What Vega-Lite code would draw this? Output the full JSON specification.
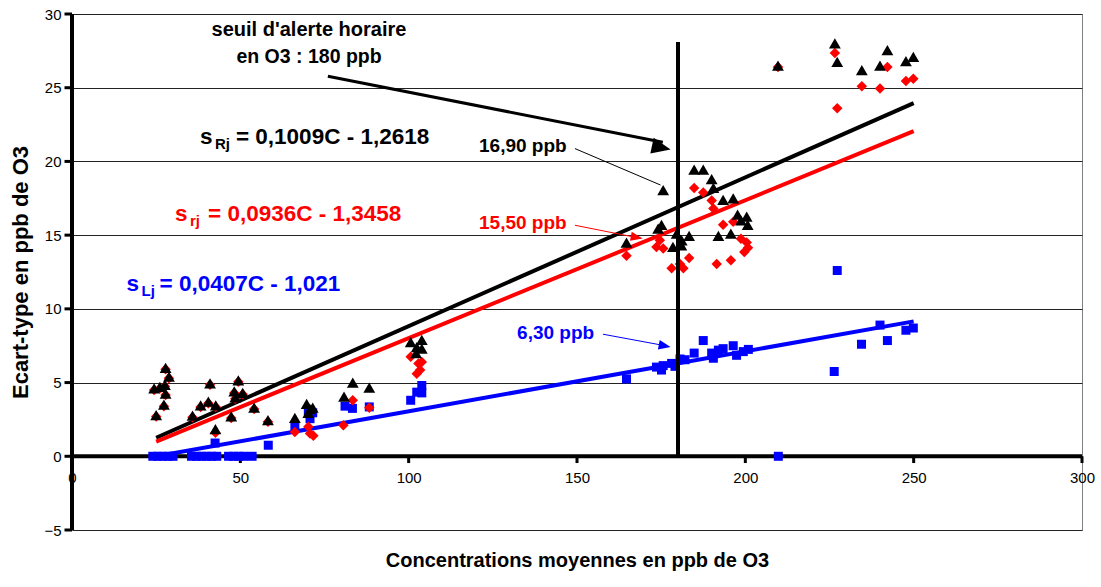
{
  "$schema": "https://vega.github.io/schema/vega-lite/v6.json",
  "width": 1010,
  "height": 516,
  "autosize": {"type": "none"},
  "padding": {"left": 72, "top": 14, "right": 19, "bottom": 57},
  "background": "white",
  "config": {
    "view": {"stroke": "#808080", "strokeWidth": 1},
    "font": "Liberation Sans",
    "axis": {
      "domain": false, "ticks": false,
      "labelFont": "Liberation Sans", "labelFontSize": 15, "labelColor": "#000",
      "labelFlush": false, "labelBound": false,
      "titleFont": "Liberation Sans", "titleFontWeight": "bold", "titleColor": "#000"
    },
    "axisX": {"grid": false, "labelPadding": 14, "offset": -74, "titleFontSize": 20, "titlePadding": 65},
    "axisY": {"grid": true, "gridColor": "#222", "gridWidth": 1, "labelPadding": 11, "titleFontSize": 22, "titlePadding": 11}
  },
  "datasets": {
    "one": [{}],
    "xline": [{"x":0,"x2":300,"v":0}],
    "yline": [{"x":0,"v":-5,"v2":30}],
    "xt": [{"x":0,"v":0},{"x":50,"v":0},{"x":100,"v":0},{"x":150,"v":0},{"x":200,"v":0},{"x":250,"v":0},{"x":300,"v":0}],
    "yt": [{"x":0,"v":-5},{"x":0,"v":0},{"x":0,"v":5},{"x":0,"v":10},{"x":0,"v":15},{"x":0,"v":20},{"x":0,"v":25},{"x":0,"v":30}],
    "R": [
      {"x":24.4,"v":4.6},{"x":25.0,"v":2.8},{"x":26.1,"v":4.7},{"x":27.3,"v":3.5},{"x":27.6,"v":4.85},{"x":27.8,"v":6.0},{"x":27.8,"v":4.25},{"x":28.8,"v":5.4},
      {"x":35.8,"v":2.75},{"x":38.2,"v":3.45},{"x":40.5,"v":3.7},{"x":41.0,"v":4.95},{"x":42.7,"v":3.45},{"x":42.6,"v":1.85},{"x":47.3,"v":2.7},{"x":48.2,"v":4.4},{"x":49.4,"v":5.15},{"x":48.5,"v":4.0},{"x":50.7,"v":4.3},{"x":54.1,"v":3.3},{"x":58.2,"v":2.45},
      {"x":66.2,"v":2.6},{"x":69.7,"v":3.55},{"x":70.7,"v":3.2},{"x":71.5,"v":3.3},{"x":70.2,"v":2.95},{"x":80.8,"v":4.05},{"x":83.4,"v":5.0},{"x":88.3,"v":4.65},
      {"x":100.6,"v":7.75},{"x":102.4,"v":7.4},{"x":103.9,"v":7.9},{"x":102.2,"v":7.0},{"x":103.9,"v":7.3},
      {"x":164.7,"v":14.5},{"x":174.1,"v":15.45},{"x":175.1,"v":15.7},{"x":175.6,"v":18.05},{"x":178.5,"v":14.2},{"x":179.6,"v":15.1},{"x":181.1,"v":14.65},{"x":181.0,"v":14.3},{"x":183.3,"v":14.95},{"x":184.8,"v":19.45},{"x":187.5,"v":19.45},{"x":190.0,"v":18.8},{"x":190.5,"v":18.2},{"x":192.0,"v":14.95},{"x":193.4,"v":17.4},{"x":195.7,"v":15.1},{"x":196.4,"v":17.5},{"x":197.7,"v":16.4},{"x":198.7,"v":16.0},{"x":200.4,"v":16.25},{"x":200.7,"v":15.7},
      {"x":209.7,"v":26.5},{"x":226.6,"v":28.0},{"x":227.3,"v":26.75},{"x":234.6,"v":26.2},{"x":240.0,"v":26.5},{"x":242.2,"v":27.55},{"x":247.7,"v":26.8},{"x":249.9,"v":27.1}
    ],
    "r": [
      {"x":24.4,"v":4.5},{"x":25.0,"v":2.7},{"x":26.1,"v":4.6},{"x":27.3,"v":3.4},{"x":27.6,"v":4.75},{"x":27.8,"v":5.9},{"x":27.8,"v":4.15},{"x":28.8,"v":5.3},
      {"x":35.8,"v":2.65},{"x":38.2,"v":3.35},{"x":40.5,"v":3.6},{"x":41.0,"v":4.85},{"x":42.7,"v":3.35},{"x":42.6,"v":1.6},{"x":47.3,"v":2.6},{"x":48.2,"v":4.3},{"x":49.4,"v":5.05},{"x":48.5,"v":3.9},{"x":50.7,"v":4.2},{"x":54.1,"v":3.2},{"x":58.2,"v":2.35},
      {"x":66.2,"v":1.65},{"x":70.2,"v":2.0},{"x":70.7,"v":1.55},{"x":71.7,"v":1.4},{"x":80.6,"v":2.1},{"x":83.4,"v":3.8},{"x":88.3,"v":3.3},
      {"x":100.6,"v":6.75},{"x":102.9,"v":6.3},{"x":103.4,"v":5.85},{"x":102.4,"v":5.6},{"x":103.9,"v":6.4},
      {"x":164.7,"v":13.6},{"x":173.6,"v":14.2},{"x":174.6,"v":14.65},{"x":175.6,"v":14.1},{"x":178.1,"v":12.75},{"x":180.6,"v":13.05},{"x":181.6,"v":12.75},{"x":183.3,"v":13.45},{"x":184.8,"v":18.2},{"x":187.5,"v":17.9},{"x":190.0,"v":17.35},{"x":190.5,"v":16.8},{"x":191.5,"v":13.05},{"x":193.4,"v":15.7},{"x":195.7,"v":13.3},{"x":196.4,"v":15.9},{"x":198.7,"v":14.75},{"x":199.7,"v":13.85},{"x":200.4,"v":14.5},{"x":200.8,"v":14.15},
      {"x":209.7,"v":26.4},{"x":226.6,"v":27.35},{"x":227.3,"v":23.6},{"x":234.6,"v":25.1},{"x":240.0,"v":24.95},{"x":242.2,"v":26.4},{"x":247.7,"v":25.45},{"x":249.9,"v":25.6}
    ],
    "L": [
      {"x":24.0,"v":0},{"x":25.5,"v":0},{"x":27.0,"v":0},{"x":28.5,"v":0},{"x":30.0,"v":0},
      {"x":35.5,"v":0},{"x":37.0,"v":0},{"x":38.5,"v":0},{"x":40.0,"v":0},{"x":41.5,"v":0},{"x":43.0,"v":0},
      {"x":46.5,"v":0},{"x":48.0,"v":0},{"x":49.5,"v":0},{"x":51.0,"v":0},{"x":53.5,"v":0},
      {"x":42.5,"v":0.9},{"x":58.3,"v":0.75},
      {"x":66.2,"v":2.0},{"x":70.2,"v":3.0},{"x":70.7,"v":2.55},{"x":71.5,"v":2.95},{"x":81.1,"v":3.4},{"x":83.3,"v":3.25},{"x":88.3,"v":3.35},
      {"x":100.6,"v":3.8},{"x":102.4,"v":4.35},{"x":103.9,"v":4.8},{"x":103.9,"v":4.3},
      {"x":164.7,"v":5.25},{"x":173.6,"v":6.05},{"x":175.1,"v":5.85},{"x":175.6,"v":6.15},{"x":178.1,"v":6.3},{"x":179.1,"v":6.1},{"x":180.6,"v":6.6},{"x":182.1,"v":6.55},{"x":184.8,"v":7.0},{"x":187.5,"v":7.85},{"x":190.0,"v":7.0},{"x":190.5,"v":6.65},{"x":192.0,"v":7.2},{"x":193.4,"v":7.3},{"x":196.4,"v":7.5},{"x":197.4,"v":6.85},{"x":199.4,"v":7.1},{"x":200.9,"v":7.25},{"x":209.8,"v":0},
      {"x":226.4,"v":5.75},{"x":227.3,"v":12.6},{"x":234.5,"v":7.6},{"x":240.0,"v":8.9},{"x":242.2,"v":7.85},{"x":247.7,"v":8.55},{"x":249.9,"v":8.7}
    ],
    "fit": [
      {"x":25,"v":1.26,"s":"R"},{"x":250,"v":23.96,"s":"R"},
      {"x":25,"v":0.995,"s":"r"},{"x":250,"v":22.05,"s":"r"},
      {"x":25,"v":0.0,"s":"L"},{"x":250,"v":9.15,"s":"L"}
    ]
  },
  "layer": [
    {
      "data": {"name": "fit"},
      "mark": {"type": "line", "strokeWidth": 4},
      "encoding": {
        "x": {"field": "x", "type": "quantitative",
              "scale": {"domain": [0, 300], "nice": false, "zero": false},
              "axis": {"values": [0, 50, 100, 150, 200, 250, 300], "title": "Concentrations moyennes en ppb de O3"}},
        "y": {"field": "v", "type": "quantitative",
              "scale": {"domain": [-5, 30], "nice": false, "zero": false},
              "axis": {"values": [-5, 0, 5, 10, 15, 20, 25, 30], "title": "Ecart-type en ppb de O3"}},
        "color": {"field": "s", "type": "nominal", "scale": {"domain": ["R", "r", "L"], "range": ["#000000", "#ff0000", "#0000ff"]}, "legend": null}
      }
    },
    {
      "data": {"name": "xline"},
      "mark": {"type": "rule", "strokeWidth": 4, "color": "#000"},
      "encoding": {"x": {"field": "x", "type": "quantitative"}, "x2": {"field": "x2"}, "y": {"field": "v", "type": "quantitative"}}
    },
    {
      "data": {"name": "yline"},
      "mark": {"type": "rule", "strokeWidth": 4, "color": "#000"},
      "encoding": {"x": {"field": "x", "type": "quantitative"}, "y": {"field": "v", "type": "quantitative"}, "y2": {"field": "v2"}}
    },
    {
      "data": {"name": "xt"},
      "mark": {"type": "point", "shape": "M-1,0L1,0L1,4.5L-1,4.5Z", "filled": true, "size": 9, "color": "#000", "opacity": 1},
      "encoding": {"x": {"field": "x", "type": "quantitative"}, "y": {"field": "v", "type": "quantitative"}}
    },
    {
      "data": {"name": "yt"},
      "mark": {"type": "point", "shape": "M0,-1L-5,-1L-5,1L0,1Z", "filled": true, "size": 9, "color": "#000", "opacity": 1},
      "encoding": {"x": {"field": "x", "type": "quantitative"}, "y": {"field": "v", "type": "quantitative"}}
    },
    {
      "data": {"name": "L"},
      "mark": {"type": "point", "shape": "square", "filled": true, "size": 81, "color": "#0000ff", "opacity": 1},
      "encoding": {"x": {"field": "x", "type": "quantitative"}, "y": {"field": "v", "type": "quantitative"}}
    },
    {
      "data": {"name": "r"},
      "mark": {"type": "point", "shape": "diamond", "filled": true, "size": 110, "color": "#ff0000", "opacity": 1},
      "encoding": {"x": {"field": "x", "type": "quantitative"}, "y": {"field": "v", "type": "quantitative"}}
    },
    {
      "data": {"name": "R"},
      "mark": {"type": "point", "shape": "triangle-up", "filled": true, "size": 140, "color": "#000000", "opacity": 1},
      "encoding": {"x": {"field": "x", "type": "quantitative"}, "y": {"field": "v", "type": "quantitative"}}
    },
    {
      "data": {"name": "one"},
      "mark": {"type": "rule", "strokeWidth": 4, "color": "#000"},
      "encoding": {"x": {"datum": 180, "type": "quantitative"}, "y": {"datum": 0, "type": "quantitative"}, "y2": {"datum": 28.1}}
    },
    {
      "data": {"name": "one"},
      "mark": {"type": "rule", "strokeWidth": 3, "color": "#000"},
      "encoding": {"x": {"datum": 76.0, "type": "quantitative"}, "y": {"datum": 25.78, "type": "quantitative"}, "x2": {"datum": 175.5}, "y2": {"datum": 21.3}}
    },
    {
      "data": {"name": "one"},
      "mark": {"type": "point", "shape": "M0,0L-2,-0.85L-2,0.85Z", "filled": true, "size": 361, "color": "#000", "opacity": 1, "angle": 12},
      "encoding": {"x": {"datum": 177.8, "type": "quantitative"}, "y": {"datum": 20.81, "type": "quantitative"}}
    },
    {
      "data": {"name": "one"},
      "mark": {"type": "rule", "strokeWidth": 1, "color": "#000"},
      "encoding": {"x": {"datum": 149.4, "type": "quantitative"}, "y": {"datum": 20.87, "type": "quantitative"}, "x2": {"datum": 174.8}, "y2": {"datum": 18.4}}
    },
    {
      "data": {"name": "one"},
      "mark": {"type": "rule", "strokeWidth": 1, "color": "#ff0000"},
      "encoding": {"x": {"datum": 149.4, "type": "quantitative"}, "y": {"datum": 15.67, "type": "quantitative"}, "x2": {"datum": 167}, "y2": {"datum": 14.87}}
    },
    {
      "data": {"name": "one"},
      "mark": {"type": "point", "shape": "M0,0L-2,-0.75L-2,0.75Z", "filled": true, "size": 144, "color": "#ff0000", "opacity": 1, "angle": 11},
      "encoding": {"x": {"datum": 169.5, "type": "quantitative"}, "y": {"datum": 14.77, "type": "quantitative"}}
    },
    {
      "data": {"name": "one"},
      "mark": {"type": "rule", "strokeWidth": 1, "color": "#0000ff"},
      "encoding": {"x": {"datum": 157.7, "type": "quantitative"}, "y": {"datum": 8.28, "type": "quantitative"}, "x2": {"datum": 175}, "y2": {"datum": 7.55}}
    },
    {
      "data": {"name": "one"},
      "mark": {"type": "point", "shape": "M0,0L-2,-0.8L-2,0.8Z", "filled": true, "size": 144, "color": "#0000ff", "opacity": 1, "angle": 10.6},
      "encoding": {"x": {"datum": 177.8, "type": "quantitative"}, "y": {"datum": 7.42, "type": "quantitative"}}
    },
    {
      "data": {"name": "one"},
      "mark": {"type": "text", "text": "seuil d'alerte horaire", "font": "Liberation Sans", "fontWeight": "bold", "fontSize": 20, "align": "center", "baseline": "alphabetic", "color": "#000"},
      "encoding": {"x": {"datum": 70.4, "type": "quantitative"}, "y": {"datum": 28.49, "type": "quantitative"}}
    },
    {
      "data": {"name": "one"},
      "mark": {"type": "text", "text": "en O3 : 180 ppb", "font": "Liberation Sans", "fontWeight": "bold", "fontSize": 19.5, "align": "center", "baseline": "alphabetic", "color": "#000"},
      "encoding": {"x": {"datum": 70.4, "type": "quantitative"}, "y": {"datum": 26.66, "type": "quantitative"}}
    },
    {
      "data": {"name": "one"},
      "mark": {"type": "text", "text": "s", "font": "Liberation Sans", "fontWeight": "bold", "fontSize": 22.5, "align": "left", "baseline": "alphabetic", "color": "#000"},
      "encoding": {"x": {"datum": 38.0, "type": "quantitative"}, "y": {"datum": 21.17, "type": "quantitative"}}
    },
    {
      "data": {"name": "one"},
      "mark": {"type": "text", "text": "Rj", "font": "Liberation Sans", "fontWeight": "bold", "fontSize": 15, "align": "left", "baseline": "alphabetic", "dx": 15, "dy": 5, "color": "#000"},
      "encoding": {"x": {"datum": 38.0, "type": "quantitative"}, "y": {"datum": 21.17, "type": "quantitative"}}
    },
    {
      "data": {"name": "one"},
      "mark": {"type": "text", "text": "= 0,1009C - 1,2618", "font": "Liberation Sans", "fontWeight": "bold", "fontSize": 22.5, "align": "left", "baseline": "alphabetic", "dx": 36, "color": "#000"},
      "encoding": {"x": {"datum": 38.0, "type": "quantitative"}, "y": {"datum": 21.17, "type": "quantitative"}}
    },
    {
      "data": {"name": "one"},
      "mark": {"type": "text", "text": "s", "font": "Liberation Sans", "fontWeight": "bold", "fontSize": 22.5, "align": "left", "baseline": "alphabetic", "color": "#ff0000"},
      "encoding": {"x": {"datum": 30.6, "type": "quantitative"}, "y": {"datum": 15.96, "type": "quantitative"}}
    },
    {
      "data": {"name": "one"},
      "mark": {"type": "text", "text": "rj", "font": "Liberation Sans", "fontWeight": "bold", "fontSize": 15, "align": "left", "baseline": "alphabetic", "dx": 15, "dy": 5, "color": "#ff0000"},
      "encoding": {"x": {"datum": 30.6, "type": "quantitative"}, "y": {"datum": 15.96, "type": "quantitative"}}
    },
    {
      "data": {"name": "one"},
      "mark": {"type": "text", "text": "= 0,0936C - 1,3458", "font": "Liberation Sans", "fontWeight": "bold", "fontSize": 22.5, "align": "left", "baseline": "alphabetic", "dx": 33, "color": "#ff0000"},
      "encoding": {"x": {"datum": 30.6, "type": "quantitative"}, "y": {"datum": 15.96, "type": "quantitative"}}
    },
    {
      "data": {"name": "one"},
      "mark": {"type": "text", "text": "s", "font": "Liberation Sans", "fontWeight": "bold", "fontSize": 22.5, "align": "left", "baseline": "alphabetic", "color": "#0000ff"},
      "encoding": {"x": {"datum": 16.2, "type": "quantitative"}, "y": {"datum": 11.21, "type": "quantitative"}}
    },
    {
      "data": {"name": "one"},
      "mark": {"type": "text", "text": "Lj", "font": "Liberation Sans", "fontWeight": "bold", "fontSize": 15, "align": "left", "baseline": "alphabetic", "dx": 15, "dy": 5, "color": "#0000ff"},
      "encoding": {"x": {"datum": 16.2, "type": "quantitative"}, "y": {"datum": 11.21, "type": "quantitative"}}
    },
    {
      "data": {"name": "one"},
      "mark": {"type": "text", "text": "= 0,0407C - 1,021", "font": "Liberation Sans", "fontWeight": "bold", "fontSize": 22.5, "align": "left", "baseline": "alphabetic", "dx": 33, "color": "#0000ff"},
      "encoding": {"x": {"datum": 16.2, "type": "quantitative"}, "y": {"datum": 11.21, "type": "quantitative"}}
    },
    {
      "data": {"name": "one"},
      "mark": {"type": "text", "text": "16,90 ppb", "font": "Liberation Sans", "fontWeight": "bold", "fontSize": 19, "align": "left", "baseline": "alphabetic", "color": "#000"},
      "encoding": {"x": {"datum": 120.9, "type": "quantitative"}, "y": {"datum": 20.64, "type": "quantitative"}}
    },
    {
      "data": {"name": "one"},
      "mark": {"type": "text", "text": "15,50 ppb", "font": "Liberation Sans", "fontWeight": "bold", "fontSize": 19, "align": "left", "baseline": "alphabetic", "color": "#ff0000"},
      "encoding": {"x": {"datum": 120.9, "type": "quantitative"}, "y": {"datum": 15.45, "type": "quantitative"}}
    },
    {
      "data": {"name": "one"},
      "mark": {"type": "text", "text": "6,30 ppb", "font": "Liberation Sans", "fontWeight": "bold", "fontSize": 19, "align": "left", "baseline": "alphabetic", "color": "#0000ff"},
      "encoding": {"x": {"datum": 132.2, "type": "quantitative"}, "y": {"datum": 7.98, "type": "quantitative"}}
    }
  ]
}
